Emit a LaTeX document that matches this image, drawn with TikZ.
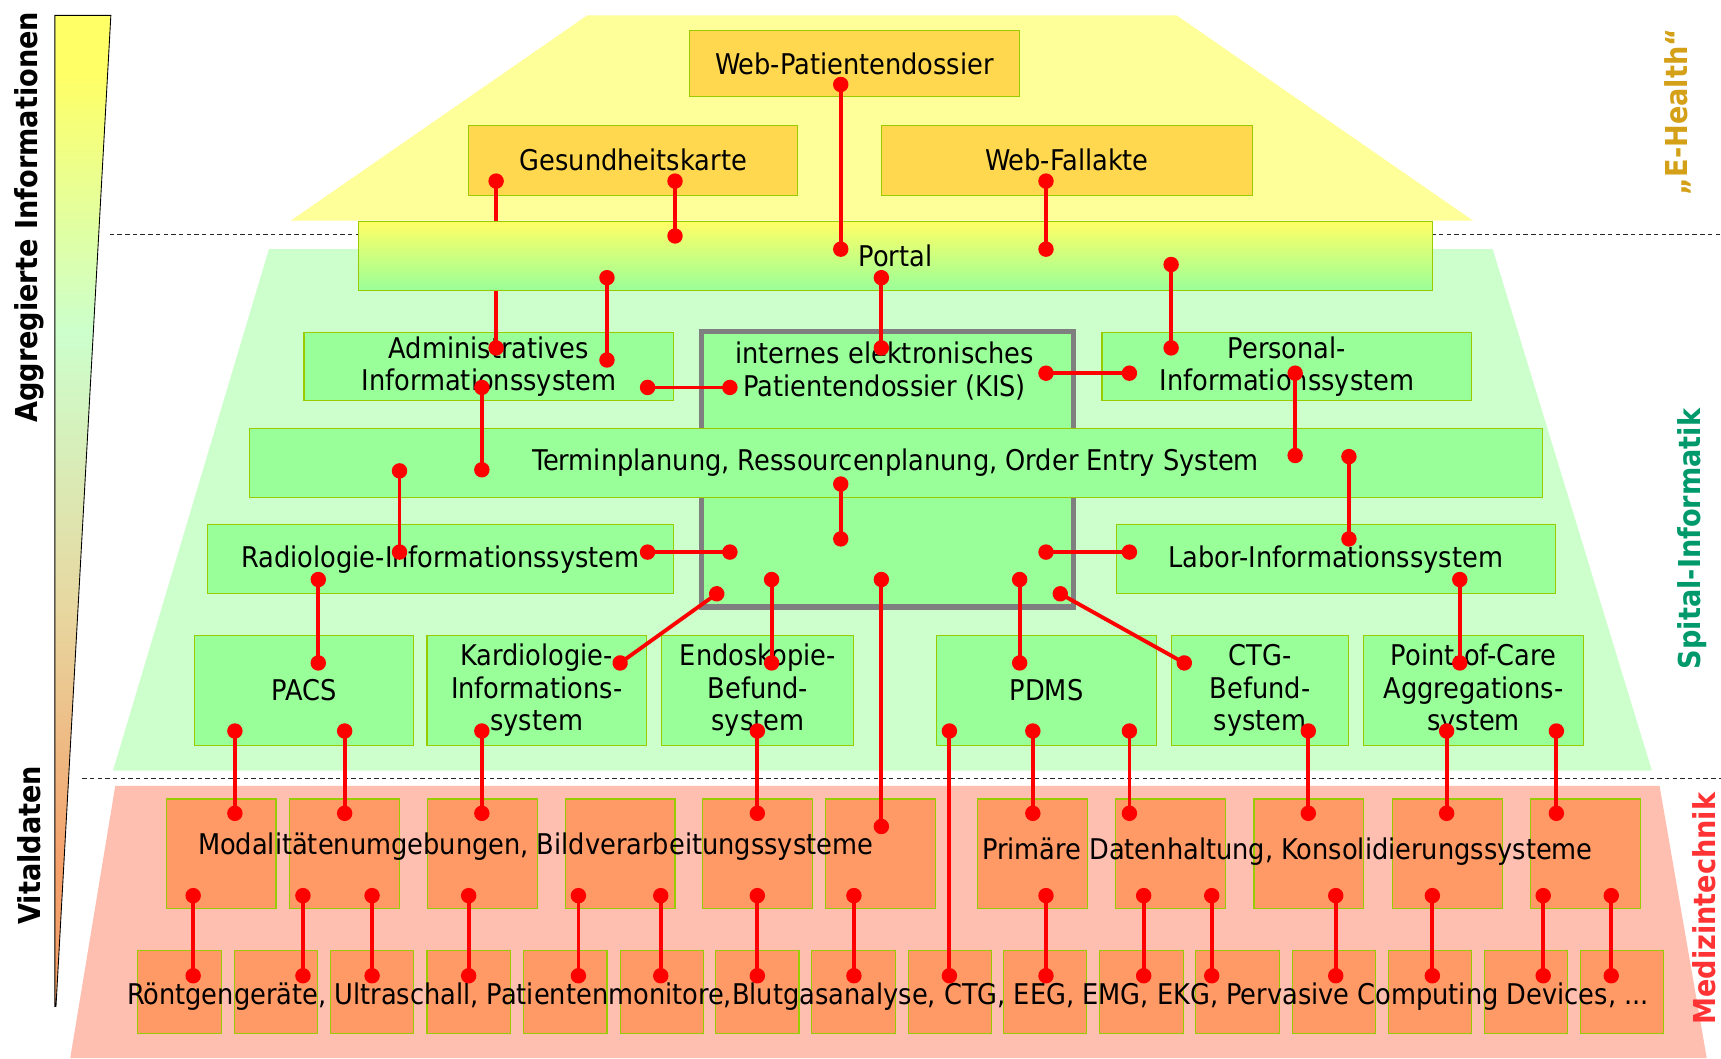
\documentclass[tikz,border=0pt]{standalone}
\usepackage{fontspec}
\setmainfont{DejaVu Sans Condensed}
\usetikzlibrary{arrows.meta}

\definecolor{ehback}{HTML}{FFFF99}
\definecolor{ehbox}{HTML}{FFD850}
\definecolor{spback}{HTML}{CCFFCC}
\definecolor{spbox}{HTML}{99FF99}
\definecolor{mtback}{HTML}{FFBFB0}
\definecolor{mtbox}{HTML}{FF9966}
\definecolor{boxline}{HTML}{99CC00}
\definecolor{kisline}{HTML}{7F7F7F}
\definecolor{linkred}{HTML}{FF0000}
\definecolor{ehtext}{HTML}{D4A017}
\definecolor{sptext}{HTML}{00996B}
\definecolor{mttext}{HTML}{FF3333}
\definecolor{baryellow}{HTML}{FFFF66}
\definecolor{bargreen}{HTML}{CCFFCC}
\definecolor{bartan}{HTML}{E8D7A0}
\definecolor{barorange}{HTML}{F4A06A}

\pgfdeclareverticalshading{infobar}{100bp}{color(0bp)=(barorange); color(32bp)=(barorange); color(45bp)=(bartan); color(59bp)=(bargreen); color(72bp)=(baryellow); color(100bp)=(baryellow)}

\newcommand\boxfont{\fontsize{26}{29.5}\selectfont}
\newcommand\sidefont{\fontsize{27.5}{30}\selectfont\bfseries}

\tikzset{
  sysbox/.style={draw=boxline, line width=1pt, inner sep=0pt, align=center},
  ehealth/.style={sysbox, fill=ehbox},
  spital/.style={sysbox, fill=spbox},
  medtech/.style={sysbox, fill=mtbox},
  modality/.style={medtech, minimum width=100, minimum height=100},
  device/.style={medtech, minimum width=76, minimum height=76},
  link/.style={draw=linkred, line width=3.5pt, {Circle[length=14pt]}-{Circle[length=14pt]}, shorten <=-7pt, shorten >=-7pt},
  sidelabel/.style={rotate=90, font=\sidefont},
  layer/.style={dash pattern=on 4pt off 3pt, line width=0.9pt, draw=black!85}
}

\begin{document}
\begin{tikzpicture}[x=1pt, y=-1pt, font=\boxfont]
\useasboundingbox (0,0) rectangle (1568,964);

%background
\shade[shading=infobar, draw=black, line width=0.8pt] (50,14) -- (101,14) -- (51,917) -- (50,917) -- cycle;
\fill[ehback] (535,14) -- (1072,14) -- (1342,201) -- (265,201) -- cycle;
\fill[spback] (245,227) -- (1360,227) -- (1505,702) -- (103,702) -- cycle;
\fill[mtback] (105,716) -- (1512,716) -- (1555,964) -- (64,964) -- cycle;
\draw[layer] (100,214) -- (1568,214);
\draw[layer] (75,709) -- (1568,709);

%link points
\coordinate (wpd-a) at (766,77);
\coordinate (portal-a) at (766,227);
\coordinate (gk-a) at (452,165);
\coordinate (ais-a) at (452,317);
\coordinate (gk-b) at (615,165);
\coordinate (portal-b) at (615,215);
\coordinate (wfa-a) at (953,165);
\coordinate (portal-c) at (953,227);
\coordinate (portal-d) at (553,253);
\coordinate (ais-b) at (553,328);
\coordinate (portal-e) at (803,253);
\coordinate (kis-a) at (803,317);
\coordinate (portal-f) at (1067,241);
\coordinate (pis-a) at (1067,317);
\coordinate (ais-c) at (590,353);
\coordinate (kis-b) at (665,353);
\coordinate (kis-c) at (953,340);
\coordinate (pis-b) at (1029,340);
\coordinate (ais-d) at (439,353);
\coordinate (ores-a) at (439,428);
\coordinate (pis-c) at (1180,340);
\coordinate (ores-b) at (1180,415);
\coordinate (ores-c) at (364,429);
\coordinate (ris-a) at (364,503);
\coordinate (ores-d) at (1229,416);
\coordinate (lis-a) at (1229,491);
\coordinate (ores-e) at (766,441);
\coordinate (kis-d) at (766,491);
\coordinate (ris-b) at (590,503);
\coordinate (kis-e) at (665,503);
\coordinate (kis-f) at (953,503);
\coordinate (lis-b) at (1029,503);
\coordinate (ris-c) at (290,528);
\coordinate (pacs-a) at (290,604);
\coordinate (lis-c) at (1330,528);
\coordinate (poc-a) at (1330,604);
\coordinate (kis-g) at (653,541);
\coordinate (kard-a) at (565,604);
\coordinate (kis-h) at (703,528);
\coordinate (endo-a) at (703,604);
\coordinate (kis-i) at (803,528);
\coordinate (m6-a) at (803,753);
\coordinate (kis-j) at (929,528);
\coordinate (pdms-a) at (929,604);
\coordinate (kis-k) at (966,541);
\coordinate (ctg-a) at (1079,604);
%to modalities
\coordinate (pacs-b) at (214,666);
\coordinate (m1-a) at (214,741);
\coordinate (pacs-c) at (314,666);
\coordinate (m2-a) at (314,741);
\coordinate (kard-b) at (439,666);
\coordinate (m3-a) at (439,741);
\coordinate (endo-b) at (690,666);
\coordinate (m5-a) at (690,741);
\coordinate (pdms-b) at (865,666);
\coordinate (d9-a) at (865,889);
\coordinate (pdms-c) at (941,666);
\coordinate (m7-a) at (941,741);
\coordinate (pdms-d) at (1029,666);
\coordinate (m8-a) at (1029,741);
\coordinate (ctg-b) at (1192,666);
\coordinate (m9-a) at (1192,741);
\coordinate (poc-b) at (1318,666);
\coordinate (m10-a) at (1318,741);
\coordinate (poc-c) at (1418,666);
\coordinate (m11-a) at (1418,741);
%to devices
\coordinate (m1-b) at (176,816);
\coordinate (d1-a) at (176,889);
\coordinate (m2-b) at (276,816);
\coordinate (d2-a) at (276,889);
\coordinate (m2-c) at (339,816);
\coordinate (d3-a) at (339,889);
\coordinate (m3-b) at (427,816);
\coordinate (d4-a) at (427,889);
\coordinate (m4-a) at (527,816);
\coordinate (d5-a) at (527,889);
\coordinate (m4-b) at (602,816);
\coordinate (d6-a) at (602,889);
\coordinate (m5-b) at (690,816);
\coordinate (d7-a) at (690,889);
\coordinate (m6-b) at (778,816);
\coordinate (d8-a) at (778,889);
\coordinate (m7-b) at (953,816);
\coordinate (d10-a) at (953,889);
\coordinate (m8-b) at (1042,816);
\coordinate (d11-a) at (1042,889);
\coordinate (m8-c) at (1104,816);
\coordinate (d12-a) at (1104,889);
\coordinate (m9-b) at (1217,816);
\coordinate (d13-a) at (1217,889);
\coordinate (m10-b) at (1305,816);
\coordinate (d14-a) at (1305,889);
\coordinate (m11-b) at (1406,816);
\coordinate (d15-a) at (1406,889);
\coordinate (m11-c) at (1468,816);
\coordinate (d16-a) at (1468,889);

%e-health
\node[ehealth, minimum width=301, minimum height=60] (wpd) at (778.5,58) {Web-Patientendossier};
\node[ehealth, minimum width=300, minimum height=64] (gk) at (577,146) {Gesundheitskarte};
\node[ehealth, minimum width=338, minimum height=64] (wfa) at (972,146) {Web-Fallakte};

%spital
\node[spital, minimum width=337, minimum height=62] (ais) at (445.5,334) {Administratives\\Informationssystem};
\node[spital, minimum width=337, minimum height=62] (pis) at (1172.5,334) {Personal-\\Informationssystem};
\draw[link] (gk-a) -- (ais-a);
\node[sysbox, top color=baryellow, bottom color=spbox, minimum width=978, minimum height=63] (portal) at (816,233.5) {Portal};
\node[spital, draw=kisline, line width=5pt, minimum width=339, minimum height=251] (kis) at (808.5,427.5) {};
\node[align=center] (kistext) at (806,338) {internes elektronisches\\Patientendossier (KIS)};
\node[spital, minimum width=1178, minimum height=63] (ores) at (816,421.5) {Terminplanung, Ressourcenplanung, Order Entry System};
\node[spital, minimum width=425, minimum height=63] (ris) at (401.5,509.5) {Radiologie-Informationssystem};
\node[spital, minimum width=400, minimum height=63] (lis) at (1217,509.5) {Labor-Informationssystem};
\node[spital, minimum width=200, minimum height=100] (pacs) at (277,629) {PACS};
\node[spital, minimum width=200, minimum height=100] (kard) at (489,629) {Kardiologie-\\Informations-\\system};
\node[spital, minimum width=175, minimum height=100] (endo) at (690.5,629) {Endoskopie-\\Befund-\\system};
\node[spital, minimum width=201, minimum height=100] (pdms) at (953.5,629) {PDMS};
\node[spital, minimum width=162, minimum height=100] (ctg) at (1148,629) {CTG-\\Befund-\\system};
\node[spital, minimum width=201, minimum height=100] (poc) at (1342.5,629) {Point-of-Care\\Aggregations-\\system};

%medizintechnik
\node[modality] (m1) at (201.5,778) {};
\node[modality] (m2) at (314,778) {};
\node[modality] (m3) at (439.5,778) {};
\node[modality] (m4) at (565,778) {};
\node[modality] (m5) at (690,778) {};
\node[modality] (m6) at (802.5,778) {};
\node[modality] (m7) at (940.5,778) {};
\node[modality] (m8) at (1066.5,778) {};
\node[modality] (m9) at (1192.5,778) {};
\node[modality] (m10) at (1318.5,778) {};
\node[modality] (m11) at (1444.5,778) {};
\node[device] (d1) at (163.5,904) {};
\node[device] (d2) at (251.5,904) {};
\node[device] (d3) at (339,904) {};
\node[device] (d4) at (427,904) {};
\node[device] (d5) at (515,904) {};
\node[device] (d6) at (603,904) {};
\node[device] (d7) at (690,904) {};
\node[device] (d8) at (777.5,904) {};
\node[device] (d9) at (865.5,904) {};
\node[device] (d10) at (952,904) {};
\node[device] (d11) at (1040,904) {};
\node[device] (d12) at (1127.5,904) {};
\node[device] (d13) at (1215.5,904) {};
\node[device] (d14) at (1303,904) {};
\node[device] (d15) at (1390.5,904) {};
\node[device] (d16) at (1478,904) {};
\node (mtext1) at (488,771) {Modalitätenumgebungen, Bildverarbeitungssysteme};
\node (mtext2) at (1173,776) {Primäre Datenhaltung, Konsolidierungssysteme};
\node (dtext) at (809,908) {Röntgengeräte, Ultraschall, Patientenmonitore,Blutgasanalyse, CTG, EEG, EMG, EKG, Pervasive Computing Devices, ...};

%links
\draw[link] (wpd-a) -- (portal-a);
\draw[link] (gk-b) -- (portal-b);
\draw[link] (wfa-a) -- (portal-c);
\draw[link] (portal-d) -- (ais-b);
\draw[link] (portal-e) -- (kis-a);
\draw[link] (portal-f) -- (pis-a);
\draw[link] (ais-c) -- (kis-b);
\draw[link] (kis-c) -- (pis-b);
\draw[link] (ais-d) -- (ores-a);
\draw[link] (pis-c) -- (ores-b);
\draw[link] (ores-c) -- (ris-a);
\draw[link] (ores-d) -- (lis-a);
\draw[link] (ores-e) -- (kis-d);
\draw[link] (ris-b) -- (kis-e);
\draw[link] (kis-f) -- (lis-b);
\draw[link] (ris-c) -- (pacs-a);
\draw[link] (lis-c) -- (poc-a);
\draw[link] (kis-g) -- (kard-a);
\draw[link] (kis-h) -- (endo-a);
\draw[link] (kis-i) -- (m6-a);
\draw[link] (kis-j) -- (pdms-a);
\draw[link] (kis-k) -- (ctg-a);
\draw[link] (pacs-b) -- (m1-a);
\draw[link] (pacs-c) -- (m2-a);
\draw[link] (kard-b) -- (m3-a);
\draw[link] (endo-b) -- (m5-a);
\draw[link] (pdms-b) -- (d9-a);
\draw[link] (pdms-c) -- (m7-a);
\draw[link] (pdms-d) -- (m8-a);
\draw[link] (ctg-b) -- (m9-a);
\draw[link] (poc-b) -- (m10-a);
\draw[link] (poc-c) -- (m11-a);
\draw[link] (m1-b) -- (d1-a);
\draw[link] (m2-b) -- (d2-a);
\draw[link] (m2-c) -- (d3-a);
\draw[link] (m3-b) -- (d4-a);
\draw[link] (m4-a) -- (d5-a);
\draw[link] (m4-b) -- (d6-a);
\draw[link] (m5-b) -- (d7-a);
\draw[link] (m6-b) -- (d8-a);
\draw[link] (m7-b) -- (d10-a);
\draw[link] (m8-b) -- (d11-a);
\draw[link] (m8-c) -- (d12-a);
\draw[link] (m9-b) -- (d13-a);
\draw[link] (m10-b) -- (d14-a);
\draw[link] (m11-b) -- (d15-a);
\draw[link] (m11-c) -- (d16-a);

%side labels
\node[sidelabel] (aggr) at (27,198) {Aggregierte Informationen};
\node[sidelabel] (vital) at (27,770) {Vitaldaten};
\node[sidelabel, text=ehtext] (ehlabel) at (1529,102) {„E-Health“};
\node[sidelabel, text=sptext] (splabel) at (1542,491) {Spital-Informatik};
\node[sidelabel, text=mttext] (mtlabel) at (1553,828) {Medizintechnik};
\end{tikzpicture}
\end{document}
